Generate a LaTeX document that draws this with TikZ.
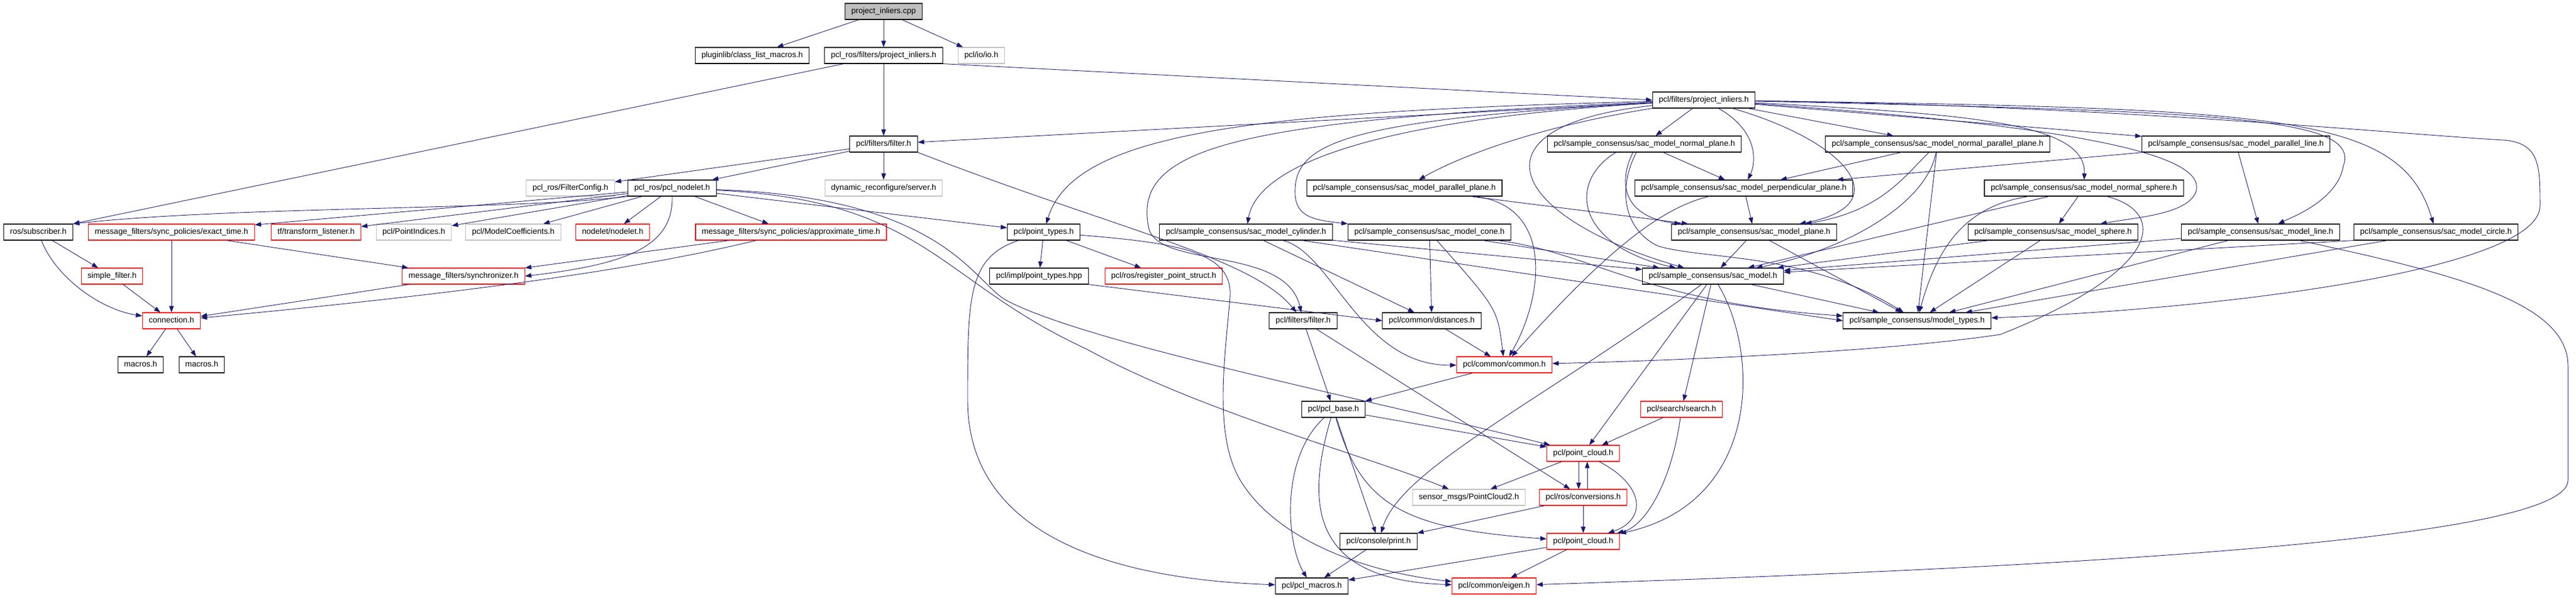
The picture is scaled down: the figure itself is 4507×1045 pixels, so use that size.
\documentclass[tikz,border=0pt]{standalone}
\usepackage{fontspec}
\setmainfont{Liberation Sans}
\usepackage{xcolor}
\usetikzlibrary{arrows.meta}
\definecolor{edgeblue}{HTML}{191970}
\definecolor{boxgray}{HTML}{BFBFBF}

\begin{document}
\begin{tikzpicture}[x=1pt, y=-1pt,
  hdr/.style={draw=black, line width=1.1pt, fill=white, minimum height=28pt, inner xsep=11pt, inner ysep=0pt, text height=10.5pt, text depth=3pt, font=\fontsize{14pt}{16pt}\selectfont},
  hdrred/.style={hdr, draw=red},
  hdrgray/.style={hdr, draw=boxgray},
  hdrroot/.style={hdr, fill=boxgray},
  inc/.style={draw=edgeblue, line width=0.9pt, -{Triangle[length=11pt,width=8pt]}}]
  \useasboundingbox (0,0) rectangle (4507,1045);
  \node[hdrroot] (cpp) at (1546,20) {project\_inliers.cpp};
  \node[hdr] (classlist) at (1316,97) {pluginlib/class\_list\_macros.h};
  \node[hdr] (rosprojinl) at (1546,97) {pcl\_ros/filters/project\_inliers.h};
  \node[hdrgray] (ioh) at (1717,97) {pcl/io/io.h};
  \node[hdr] (projinl) at (2981,175) {pcl/filters/project\_inliers.h};
  \node[hdr] (rosfilter) at (1546,252) {pcl/filters/filter.h};
  \node[hdr] (normplane) at (2877,252) {pcl/sample\_consensus/sac\_model\_normal\_plane.h};
  \node[hdr] (normparplane) at (3390,252) {pcl/sample\_consensus/sac\_model\_normal\_parallel\_plane.h};
  \node[hdr] (parline) at (3912,252) {pcl/sample\_consensus/sac\_model\_parallel\_line.h};
  \node[hdrgray] (filtercfg) at (998,329) {pcl\_ros/FilterConfig.h};
  \node[hdr] (nodeleth) at (1176,329) {pcl\_ros/pcl\_nodelet.h};
  \node[hdrgray] (dynrec) at (1546,329) {dynamic\_reconfigure/server.h};
  \node[hdr] (parplane) at (2457,329) {pcl/sample\_consensus/sac\_model\_parallel\_plane.h};
  \node[hdr] (perpplane) at (3051,329) {pcl/sample\_consensus/sac\_model\_perpendicular\_plane.h};
  \node[hdr] (normsphere) at (3646,329) {pcl/sample\_consensus/sac\_model\_normal\_sphere.h};
  \node[hdr] (subscriber) at (67,406) {ros/subscriber.h};
  \node[hdrred] (exacttime) at (300,406) {message\_filters/sync\_policies/exact\_time.h};
  \node[hdrred] (tflistener) at (553,406) {tf/transform\_listener.h};
  \node[hdrgray] (pointindices) at (724,406) {pcl/PointIndices.h};
  \node[hdrgray] (modelcoeff) at (898,406) {pcl/ModelCoefficients.h};
  \node[hdrred] (nodelet) at (1072,406) {nodelet/nodelet.h};
  \node[hdrred] (approxtime) at (1384,406) {message\_filters/sync\_policies/approximate\_time.h};
  \node[hdr] (pointtypes) at (1826,406) {pcl/point\_types.h};
  \node[hdr] (cylinder) at (2180,406) {pcl/sample\_consensus/sac\_model\_cylinder.h};
  \node[hdr] (cone) at (2501,406) {pcl/sample\_consensus/sac\_model\_cone.h};
  \node[hdr] (plane) at (3069,406) {pcl/sample\_consensus/sac\_model\_plane.h};
  \node[hdr] (sphere) at (3592,406) {pcl/sample\_consensus/sac\_model\_sphere.h};
  \node[hdr] (line) at (3955,406) {pcl/sample\_consensus/sac\_model\_line.h};
  \node[hdr] (circle) at (4262,406) {pcl/sample\_consensus/sac\_model\_circle.h};
  \node[hdrred] (simplefilter) at (196,483) {simple\_filter.h};
  \node[hdrred] (synchronizer) at (811,483) {message\_filters/synchronizer.h};
  \node[hdr] (pointtypesimpl) at (1818,483) {pcl/impl/point\_types.hpp};
  \node[hdrred] (regstruct) at (2036,483) {pcl/ros/register\_point\_struct.h};
  \node[hdr] (sacmodel) at (2997,483) {pcl/sample\_consensus/sac\_model.h};
  \node[hdrred] (connection) at (300,561) {connection.h};
  \node[hdr] (filter) at (2280,561) {pcl/filters/filter.h};
  \node[hdr] (distances) at (2505,561) {pcl/common/distances.h};
  \node[hdr] (modeltypes) at (3354,561) {pcl/sample\_consensus/model\_types.h};
  \node[hdr] (macrosa) at (246,638) {macros.h};
  \node[hdr] (macrosb) at (353,638) {macros.h};
  \node[hdrred] (common) at (2632,638) {pcl/common/common.h};
  \node[hdr] (pclbase) at (2333,716) {pcl/pcl\_base.h};
  \node[hdrred] (search) at (2942,716) {pcl/search/search.h};
  \node[hdrred] (pointclouda) at (2770,793) {pcl/point\_cloud.h};
  \node[hdrgray] (pointcloud2) at (2570,870) {sensor\_msgs/PointCloud2.h};
  \node[hdrred] (conversions) at (2770,870) {pcl/ros/conversions.h};
  \node[hdr] (print) at (2412,947) {pcl/console/print.h};
  \node[hdrred] (pointcloudb) at (2770,947) {pcl/point\_cloud.h};
  \node[hdr] (pclmacros) at (2295,1025) {pcl/pcl\_macros.h};
  \node[hdrred] (eigen) at (2614,1025) {pcl/common/eigen.h};
  \draw[inc] (cpp) -- (classlist);
  \draw[inc] (cpp) -- (rosprojinl);
  \draw[inc] (cpp) -- (ioh);
  \draw[inc] (rosprojinl) -- (rosfilter);
  \draw[inc] (rosprojinl) -- (subscriber.north east);
  \draw[inc] (rosprojinl.south east) -- (projinl.west);
  \draw[inc] (rosfilter) -- (filtercfg);
  \draw[inc] (rosfilter) -- (nodeleth);
  \draw[inc] (rosfilter) -- (dynrec);
  \draw[inc] (rosfilter.south east) .. controls (1950,400) and (2190,450) .. (filter);
  \draw[inc] (nodeleth.south west) .. controls (900,368) and (420,360) .. (subscriber.north east);
  \draw[inc] (nodeleth) -- (exacttime);
  \draw[inc] (nodeleth) -- (tflistener);
  \draw[inc] (nodeleth) -- (pointindices);
  \draw[inc] (nodeleth) -- (modelcoeff);
  \draw[inc] (nodeleth) -- (nodelet);
  \draw[inc] (nodeleth.south) .. controls (1178,430) and (1100,462) .. (synchronizer.east);
  \draw[inc] (nodeleth) -- (approxtime);
  \draw[inc] (nodeleth) -- (pointtypes);
  \draw[inc] (nodeleth) .. controls (1620,350) and (1640,490) .. (1900,610) .. controls (2100,720) and (2400,800) .. (pointcloud2);
  \draw[inc] (nodeleth) .. controls (1650,345) and (1700,490) .. (1760,525) .. controls (1900,600) and (2400,700) .. (pointclouda);
  \draw[inc] (subscriber) -- (simplefilter);
  \draw[inc] (subscriber) .. controls (95,480) and (170,540) .. (connection);
  \draw[inc] (exacttime) -- (connection);
  \draw[inc] (exacttime) -- (synchronizer);
  \draw[inc] (simplefilter) -- (connection);
  \draw[inc] (synchronizer) -- (connection);
  \draw[inc] (approxtime) -- (synchronizer);
  \draw[inc] (approxtime) .. controls (1150,462) and (900,505) .. (connection);
  \draw[inc] (connection) -- (macrosa);
  \draw[inc] (connection) -- (macrosb);
  \draw[inc] (pointtypes) -- (pointtypesimpl);
  \draw[inc] (pointtypes) -- (regstruct);
  \draw[inc] (pointtypes) .. controls (1693,450) and (1693,520) .. (1693,700) .. controls (1693,960) and (2000,1015) .. (pclmacros);
  \draw[inc] (pointtypes) .. controls (2060,425) and (2158,440) .. (2152,520) .. controls (2144,620) and (2122,760) .. (2170,840) .. controls (2230,940) and (2380,1000) .. (eigen);
  \draw[inc] (pointtypesimpl.south east) -- (distances.west);
  \draw[inc] (projinl) -- (rosfilter);
  \draw[inc] (projinl) .. controls (2200,195) and (1880,230) .. (pointtypes);
  \draw[inc] (projinl) .. controls (2150,210) and (1980,260) .. (2010,400) .. controls (2030,470) and (2250,430) .. (filter);
  \draw[inc] (projinl) .. controls (2400,210) and (2200,290) .. (cylinder);
  \draw[inc] (projinl) .. controls (2350,210) and (2262,250) .. (2266,340) .. controls (2268,380) and (2300,385) .. (cone.north west);
  \draw[inc] (projinl) .. controls (2560,220) and (2640,380) .. (sacmodel);
  \draw[inc] (projinl) .. controls (2700,220) and (2560,270) .. (parplane);
  \draw[inc] (projinl) -- (normplane);
  \draw[inc] (projinl) .. controls (3078,230) and (3072,285) .. (perpplane);
  \draw[inc] (projinl) .. controls (3240,250) and (3320,360) .. (plane);
  \draw[inc] (projinl) -- (normparplane);
  \draw[inc] (projinl) -- (parline);
  \draw[inc] (projinl) .. controls (3450,200) and (3650,215) .. (normsphere);
  \draw[inc] (projinl) .. controls (3700,225) and (3870,280) .. (3840,340) .. controls (3820,375) and (3740,380) .. (sphere);
  \draw[inc] (projinl) .. controls (3900,195) and (4130,205) .. (4100,290) .. controls (4090,350) and (4010,380) .. (line);
  \draw[inc] (projinl) .. controls (4000,190) and (4200,200) .. (circle);
  \draw[inc] (projinl) .. controls (3700,185) and (4200,235) .. (4380,245) .. controls (4444,250) and (4444,290) .. (4444,360) .. controls (4444,470) and (3900,540) .. (modeltypes);
  \draw[inc] (normplane) -- (perpplane);
  \draw[inc] ([xshift=-20pt]normplane.south) .. controls (2830,320) and (2840,380) .. (plane);
  \draw[inc] ([xshift=-50pt]normplane.south) .. controls (2740,320) and (2760,430) .. (sacmodel);
  \draw[inc] ([xshift=-14pt]normplane.south) .. controls (2830,330) and (2840,400) .. (2900,430) .. controls (2980,455) and (3160,440) .. (modeltypes);
  \draw[inc] (normparplane) -- (perpplane);
  \draw[inc] (normparplane) .. controls (3330,310) and (3290,370) .. (plane);
  \draw[inc] (normparplane) .. controls (3370,360) and (3220,440) .. (sacmodel);
  \draw[inc] (normparplane) -- (modeltypes);
  \draw[inc] (parline) -- (line);
  \draw[inc] (parline) -- (perpplane);
  \draw[inc] (normsphere) -- (sphere);
  \draw[inc] (normsphere) -- (sacmodel);
  \draw[inc] (normsphere) .. controls (3440,360) and (3390,430) .. (modeltypes);
  \draw[inc] ([xshift=40pt]normsphere.south) .. controls (3790,370) and (3790,470) .. (3500,585) .. controls (3300,615) and (2950,630) .. (common);
  \draw[inc] (sphere) -- (sacmodel);
  \draw[inc] (sphere) -- (modeltypes);
  \draw[inc] (line) -- (sacmodel);
  \draw[inc] (line) -- (modeltypes);
  \draw[inc] (line) .. controls (4300,480) and (4493,530) .. (4493,640) -- (4493,840) .. controls (4493,940) and (3700,990) .. (eigen);
  \draw[inc] (circle.south west) -- (sacmodel);
  \draw[inc] (circle) -- (modeltypes);
  \draw[inc] (plane) -- (sacmodel);
  \draw[inc] (plane) -- (modeltypes);
  \draw[inc] (perpplane) -- (plane);
  \draw[inc] (perpplane) .. controls (2900,365) and (2800,450) .. (common);
  \draw[inc] (parplane) -- (plane);
  \draw[inc] (parplane) .. controls (2720,360) and (2700,520) .. (common);
  \draw[inc] (cone) -- (distances);
  \draw[inc] (cone) .. controls (2620,540) .. (common);
  \draw[inc] (cone) -- (sacmodel);
  \draw[inc] (cone) .. controls (2780,440) and (2880,530) .. (modeltypes);
  \draw[inc] (cylinder) -- (distances);
  \draw[inc] (cylinder) .. controls (2330,440) and (2380,640) .. (common);
  \draw[inc] (cylinder) -- (sacmodel);
  \draw[inc] (cylinder) -- (modeltypes.west);
  \draw[inc] (distances) -- (common);
  \draw[inc] (common) -- (pclbase);
  \draw[inc] (filter) -- (pclbase);
  \draw[inc] (filter) -- (conversions);
  \draw[inc] (pclbase) -- (pointclouda);
  \draw[inc] (pclbase) -- (print);
  \draw[inc] (pclbase) .. controls (2240,800) and (2250,950) .. (pclmacros);
  \draw[inc] (pclbase) .. controls (2285,880) and (2290,1015) .. (eigen);
  \draw[inc] (pclbase) .. controls (2380,880) and (2450,925) .. (pointcloudb);
  \draw[inc] (pointclouda) -- (pointcloud2);
  \draw[inc] ([xshift=-8pt]pointclouda.south) -- ([xshift=-8pt]conversions.north);
  \draw[inc] ([xshift=7pt]conversions.north) -- ([xshift=7pt]pointclouda.south);
  \draw[inc] (pointclouda) .. controls (2880,850) and (2880,910) .. (pointcloudb);
  \draw[inc] (conversions) -- (print);
  \draw[inc] (conversions) -- (pointcloudb);
  \draw[inc] (search) -- (pointclouda);
  \draw[inc] (search) .. controls (2925,840) and (2880,920) .. (pointcloudb);
  \draw[inc] (sacmodel) -- (modeltypes);
  \draw[inc] (sacmodel) .. controls (2700,700) and (2450,820) .. (print);
  \draw[inc] (sacmodel) -- (pointclouda);
  \draw[inc] (sacmodel) -- (search);
  \draw[inc] (sacmodel) .. controls (3080,620) and (3080,880) .. (pointcloudb);
  \draw[inc] (pointcloudb) -- (pclmacros);
  \draw[inc] (pointcloudb) -- (eigen);
  \draw[inc] (print) -- (pclmacros);
\end{tikzpicture}
\end{document}
